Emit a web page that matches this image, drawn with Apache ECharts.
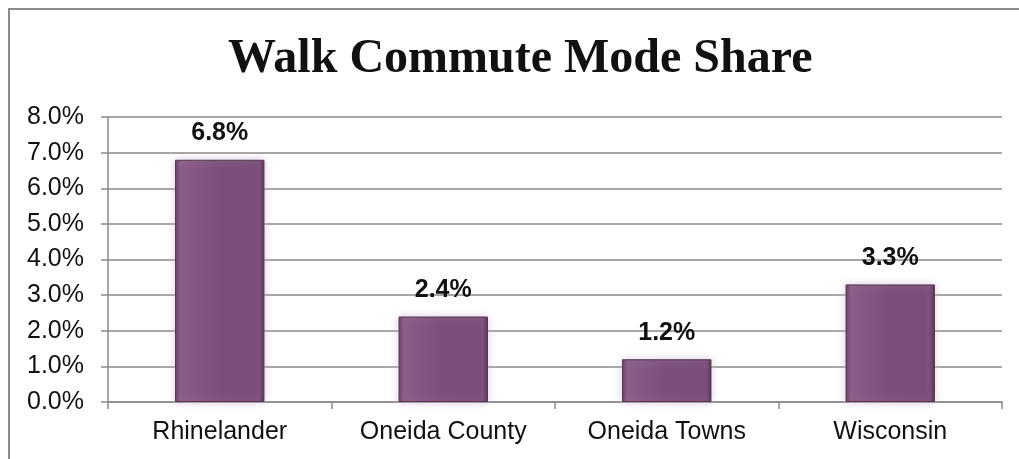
<!DOCTYPE html>
<html>
<head>
<meta charset="utf-8">
<script src="https://cdn.jsdelivr.net/npm/echarts@6/dist/echarts.min.js"></script>
<style>
  html, body { margin: 0; padding: 0; background: #fff; }
  #chart { width: 1019px; height: 459px; }
</style>
</head>
<body>
<div id="chart"></div>
<script>
// Walk commute mode share by area
const categories = ['Rhinelander', 'Oneida County', 'Oneida Towns', 'Wisconsin'];
const walkShare = [6.8, 2.4, 1.2, 3.3];
const yTicks = { min: 0, max: 8, interval: 1 };

const chart = echarts.init(document.getElementById('chart'), null, { renderer: 'canvas' });

const barFill = new echarts.graphic.LinearGradient(0, 0, 1, 0, [
  { offset: 0, color: '#5f3a5d' },
  { offset: 0.06, color: '#8a5c88' },
  { offset: 0.5, color: '#7c4f7a' },
  { offset: 0.94, color: '#7a4d78' },
  { offset: 1, color: '#4f2f4d' }
]);

chart.setOption({
  animation: false,
  backgroundColor: '#ffffff',
  title: {
    text: 'Walk Commute Mode Share',
    left: 223,
    top: 31,
    textStyle: {
      fontFamily: 'Liberation Serif',
      fontSize: 48,
      fontWeight: 'bold',
      color: '#111'
    }
  },
  graphic: [{
    type: 'rect',
    shape: { x: 9, y: 9, width: 1040, height: 480 },
    style: { fill: 'none', stroke: '#8a8a8a', lineWidth: 2 },
    silent: true
  }],
  grid: { left: 108, right: 17, top: 117, bottom: 57 },
  xAxis: {
    type: 'category',
    data: categories,
    axisLine: { lineStyle: { color: '#8a8a8a', width: 1.5 } },
    axisTick: { show: true, length: 7, alignWithLabel: false, lineStyle: { color: '#8a8a8a', width: 1.5 } },
    axisLabel: { color: '#111', fontFamily: 'Liberation Sans', fontSize: 25, margin: 18 }
  },
  yAxis: {
    type: 'value',
    min: yTicks.min,
    max: yTicks.max,
    interval: yTicks.interval,
    axisLine: { show: true, lineStyle: { color: '#8a8a8a', width: 1.5 } },
    axisTick: { show: true, length: 7, lineStyle: { color: '#8a8a8a', width: 1.5 } },
    splitLine: { show: true, lineStyle: { color: '#8a8a8a', width: 1.5 } },
    axisLabel: {
      color: '#111', fontFamily: 'Liberation Sans', fontSize: 25, margin: 24,
      formatter: v => v.toFixed(1) + '%'
    }
  },
  series: [{
    type: 'bar',
    data: walkShare,
    barWidth: '40%',
    itemStyle: {
      color: barFill,
      borderColor: '#56344f',
      borderWidth: 1,
      shadowColor: 'rgba(205,185,215,0.7)',
      shadowBlur: 8
    },
    label: {
      show: true,
      position: 'top',
      distance: 14,
      color: '#111',
      fontFamily: 'Liberation Sans',
      fontWeight: 'bold',
      fontSize: 25,
      formatter: p => p.value.toFixed(1) + '%'
    }
  }]
});
</script>
</body>
</html>
